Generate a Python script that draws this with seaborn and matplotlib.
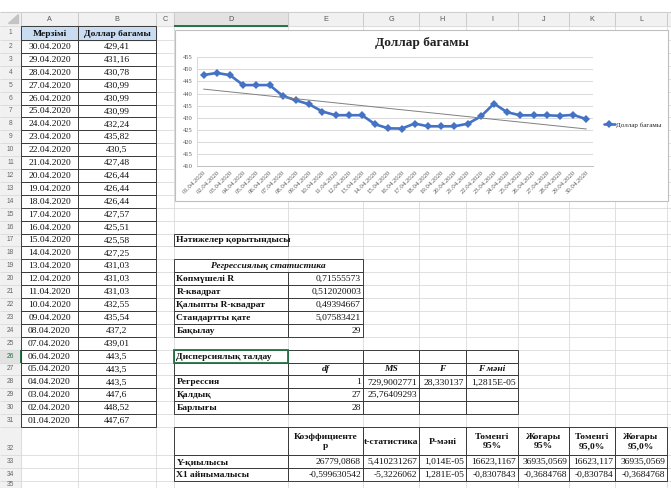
import numpy as np
import pandas as pd
import matplotlib
matplotlib.use("Agg")
import matplotlib.pyplot as plt
from matplotlib.patches import Rectangle, Polygon
import seaborn as sns

# ---- worksheet data (A2:B31) ----
dates = ["30.04.2020", "29.04.2020", "28.04.2020", "27.04.2020", "26.04.2020",
         "25.04.2020", "24.04.2020", "23.04.2020", "22.04.2020", "21.04.2020",
         "20.04.2020", "19.04.2020", "18.04.2020", "17.04.2020", "16.04.2020",
         "15.04.2020", "14.04.2020", "13.04.2020", "12.04.2020", "11.04.2020",
         "10.04.2020", "09.04.2020", "08.04.2020", "07.04.2020", "06.04.2020",
         "05.04.2020", "04.04.2020", "03.04.2020", "02.04.2020", "01.04.2020"]
rates = [429.41, 431.16, 430.78, 430.99, 430.99, 430.99, 432.24, 435.82, 430.5, 427.48,
         426.44, 426.44, 426.44, 427.57, 425.51, 425.58, 427.25, 431.03, 431.03, 431.03,
         432.55, 435.54, 437.2, 439.01, 443.5, 443.5, 443.5, 447.6, 448.52, 447.67]

# ---- regression output ----
summary_title = "Нәтижелер қорытындысы"
stat_title = "Регрессиялық статистика"
stat_labels = ["Көпмүшелі R", "R-квадрат", "Қалыпты R-квадрат", "Стандартты қате", "Бақылау"]
stat_values = ["0,71555573", "0,512020003", "0,49394667", "5,07583421", "29"]

anova_title = "Дисперсиялық талдау"
anova_cols = ["df", "MS", "F", "F мәні"]
anova_rows = ["Регрессия", "Қалдық", "Барлығы"]
anova_df = ["1", "27", "28"]
anova_ms = ["729,9002771", "25,76409293", ""]
anova_f = ["28,330137", "", ""]
anova_sig = ["1,2815E-05", "", ""]

coef_headers = ["Коэффициенте\nр", "t-статистика", "P-мәні", "Төменгі\n95%",
                "Жоғары\n95%", "Төменгі\n95,0%", "Жоғары\n95,0%"]
coef_names = ["Y-қиылысы", "X1 айнымалысы"]
coef_intercept = ["26779,0868", "5,410231267", "1,014E-05", "16623,1167",
                  "36935,0569", "16623,117", "36935,0569"]
coef_x1 = ["-0,599630542", "-5,3226062", "1,281E-05", "-0,8307843",
           "-0,3684768", "-0,830784", "-0,3684768"]

col_letters = ["A", "B", "C", "D", "E", "G", "H", "I", "J", "K", "L"]

sns.set_theme(style="white")
plt.rcParams["font.family"] = ["Liberation Serif", "DejaVu Serif"]

W, H = 671, 488
fig = plt.figure(figsize=(W / 100, H / 100), dpi=100)
bg = fig.add_axes([0, 0, 1, 1])
bg.set_xlim(0, W)
bg.set_ylim(H, 0)
bg.axis("off")

cols = {"#": (0, 21), "A": (21, 78), "B": (78, 156), "C": (156, 174), "D": (174, 288),
        "E": (288, 363), "G": (363, 419), "H": (419, 466), "I": (466, 518),
        "J": (518, 569), "K": (569, 615), "L": (615, 667), "M": (667, 730)}


def rows_of(r):
    if r == 0:
        return (12, 26)
    if r == 1:
        return (26, 40)
    if r <= 31:
        t = 40 + (r - 2) * 12.9
        return (t, t + 12.9)
    if r == 32:
        return (427, 455)
    t = 455 + (r - 33) * 13
    return (t, t + 13)


GRID = "#DADADA"
BORDER = "#3C3C3C"
HDR = "#F1F1F1"
FS = 6.8


def hline(y, x0, x1, color=GRID, lw=0.6, z=1):
    bg.plot([x0, x1], [y, y], color=color, lw=lw, zorder=z, solid_capstyle="butt")


def vline(x, y0, y1, color=GRID, lw=0.6, z=1):
    bg.plot([x, x], [y0, y1], color=color, lw=lw, zorder=z, solid_capstyle="butt")


def cell_text(c, r, s, ha="left", bold=False, italic=False, size=FS, color="#111111", c2=None):
    x0, x1 = cols[c]
    if c2 is not None:
        x1 = cols[c2][1]
    y0, y1 = rows_of(r)
    if ha == "left":
        x = x0 + 2.5
    elif ha == "right":
        x = x1 - 2
    else:
        x = (x0 + x1) / 2
    bg.text(x, (y0 + y1) / 2 + 0.5, s, ha=ha, va="center", fontsize=size,
            fontweight="bold" if bold else "normal",
            fontstyle="italic" if italic else "normal", color=color, zorder=6,
            linespacing=1.3)


def box(c0, c1, r0, r1, color=BORDER, lw=0.7):
    x0, x1 = cols[c0][0], cols[c1][1]
    y0, y1 = rows_of(r0)[0], rows_of(r1)[1]
    bg.add_patch(Rectangle((x0, y0), x1 - x0, y1 - y0, fill=False, ec=color, lw=lw, zorder=4))


def grid_block(clist, r0, r1):
    for c in clist:
        for r in range(r0, r1 + 1):
            box(c, c, r, r)


# header strips
bg.add_patch(Rectangle((0, 12), W, 14, color=HDR, zorder=0))
bg.add_patch(Rectangle((0, 26), 21, H - 26, color=HDR, zorder=0))
bg.add_patch(Rectangle((cols["D"][0], 12), cols["D"][1] - cols["D"][0], 14, color="#E2E2E2", zorder=0))
r26 = rows_of(26)
bg.add_patch(Rectangle((0, r26[0]), 21, r26[1] - r26[0], color="#E2E2E2", zorder=0))
bg.add_patch(Rectangle((cols["A"][0], 26), cols["B"][1] - cols["A"][0], 14, color="#C9DCF1", zorder=0))

# sheet grid
for r in range(0, 36):
    y0, y1 = rows_of(r)
    hline(y1, 0, W)
hline(12, 0, W, color="#C8C8C8")
for c, (x0, x1) in cols.items():
    vline(x1, 12, H, color=GRID)
for c, (x0, x1) in cols.items():
    vline(x1, 12, 26, color="#C8C8C8")
hline(26, cols["D"][0], cols["D"][1], color="#217346", lw=1.4, z=3)
vline(21, r26[0], r26[1], color="#217346", lw=1.4, z=3)
bg.add_patch(Polygon([[8, 23], [18, 23], [18, 14]], closed=True, color="#C4C4C4", zorder=2))

# column letters and row numbers
for c in col_letters:
    x0, x1 = cols[c]
    bg.text((x0 + x1) / 2, 19.5, c, ha="center", va="center", fontsize=5.2,
            family=["Liberation Sans", "DejaVu Sans"], color="#555555", zorder=6)
for r in range(1, 36):
    y0, y1 = rows_of(r)
    yc = (y0 + y1) / 2 if r != 32 else y1 - 7
    bg.text(10.5, min(yc, H - 3), str(r), ha="center", va="center", fontsize=4.8,
            family=["Liberation Sans", "DejaVu Sans"],
            color="#217346" if r == 26 else "#666666", zorder=6)

# data table A1:B31
grid_block(["A", "B"], 1, 31)
cell_text("A", 1, "Мерзімі", ha="center", bold=True)
cell_text("B", 1, "Доллар багамы", ha="center", bold=True)
for i, (d, v) in enumerate(zip(dates, rates)):
    cell_text("A", i + 2, d, ha="center")
    cell_text("B", i + 2, f"{v:g}".replace(".", ","), ha="center")

# regression summary
box("D", "D", 17, 17)
cell_text("D", 17, summary_title, bold=True)
box("D", "E", 19, 19)
cell_text("D", 19, stat_title, ha="center", bold=True, italic=True, c2="E")
grid_block(["D", "E"], 20, 24)
for i, (lab, val) in enumerate(zip(stat_labels, stat_values)):
    cell_text("D", 20 + i, lab, bold=True)
    cell_text("E", 20 + i, val, ha="right")

# ANOVA block
grid_block(["D", "E", "G", "H", "I"], 26, 30)
cell_text("D", 26, anova_title, bold=True)
for c, lab in zip(["E", "G", "H", "I"], anova_cols):
    cell_text(c, 27, lab, ha="center", bold=True, italic=True)
for i, lab in enumerate(anova_rows):
    r = 28 + i
    cell_text("D", r, lab, bold=True)
    for c, col in zip(["E", "G", "H", "I"], [anova_df, anova_ms, anova_f, anova_sig]):
        cell_text(c, r, col[i], ha="right")
bg.add_patch(Rectangle((cols["D"][0], r26[0]), cols["D"][1] - cols["D"][0], r26[1] - r26[0],
                       fill=False, ec="#217346", lw=1.3, zorder=5))

# coefficients block
coef_cols = ["E", "G", "H", "I", "J", "K", "L"]
grid_block(["D"] + coef_cols, 32, 34)
for c, lab in zip(coef_cols, coef_headers):
    cell_text(c, 32, lab, ha="center", bold=True)
for i, (name, vals) in enumerate(zip(coef_names, [coef_intercept, coef_x1])):
    cell_text("D", 33 + i, name, bold=True)
    for c, v in zip(coef_cols, vals):
        cell_text(c, 33 + i, v, ha="right")

# chart frame
bg.add_patch(Rectangle((175, 30), 493, 171, fc="white", ec="#BFBFBF", lw=0.8, zorder=3))
bg.text(421.5, 43, "Доллар багамы", ha="center", va="center", fontsize=9.6,
        fontweight="bold", color="#222222", zorder=6)

# line chart
chart = pd.DataFrame({"day": np.arange(len(dates)), "label": dates[::-1], "rate": rates[::-1]})
ax = fig.add_axes([197 / W, 1 - 166 / H, 396 / W, 108.7 / H])
ax.set_zorder(5)
ax.patch.set_alpha(0)
sns.lineplot(data=chart, x="day", y="rate", ax=ax, color="#4472C4", lw=1.9,
             marker="D", markersize=3.6, markeredgewidth=0, label="Доллар багамы", zorder=3)
sns.regplot(data=chart, x="day", y="rate", ax=ax, scatter=False, ci=None, truncate=True,
            line_kws=dict(color="#808080", lw=0.7, zorder=4))
ax.set_xlim(-0.5, len(dates) - 0.5)
ax.set_ylim(410, 455)
ax.set_yticks(np.arange(410, 456, 5))
ax.yaxis.grid(True, color="#D9D9D9", lw=0.7)
ax.set_axisbelow(True)
ax.set_xticks(chart["day"])
ax.set_xticklabels(chart["label"], rotation=45, ha="right", rotation_mode="anchor",
                   fontsize=4.9, color="#595959")
ax.set_xticks(np.arange(-0.5, len(dates), 1), minor=True)
ax.tick_params(axis="x", which="major", length=0, pad=3)
ax.tick_params(axis="x", which="minor", length=2.5, width=0.5, color="#BFBFBF", direction="out")
ax.tick_params(axis="y", length=0, pad=3, labelsize=4.7, labelcolor="#595959")
for s in ["top", "right"]:
    ax.spines[s].set_visible(False)
ax.spines["left"].set_color("#D9D9D9")
ax.spines["left"].set_linewidth(0.7)
ax.spines["bottom"].set_color("#BFBFBF")
ax.spines["bottom"].set_linewidth(0.7)
ax.set_xlabel("")
ax.set_ylabel("")
handles, labels = ax.get_legend_handles_labels()
ax.legend(handles[:1], labels[:1], loc="center left", bbox_to_anchor=(1.02, 0.38),
          frameon=False, fontsize=5, handlelength=1.6, handletextpad=0.2, borderaxespad=0)

fig.savefig("out.png", dpi=100)
